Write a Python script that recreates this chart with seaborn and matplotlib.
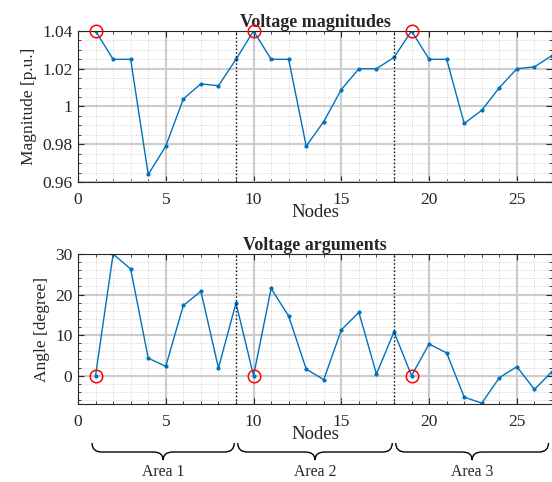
import seaborn as sns
import matplotlib.pyplot as plt
import pandas as pd
import numpy as np
from matplotlib.path import Path
from matplotlib.patches import PathPatch
from matplotlib.ticker import MultipleLocator, FuncFormatter
from matplotlib.transforms import blended_transform_factory

nodes = list(range(1, 28))
magnitude = [1.040, 1.025, 1.025, 0.964, 0.979, 1.004, 1.012, 1.011, 1.025,
             1.040, 1.025, 1.025, 0.979, 0.992, 1.009, 1.020, 1.020, 1.026,
             1.040, 1.025, 1.025, 0.991, 0.998, 1.010, 1.020, 1.021, 1.027]
angle = [0.0, 30.0, 26.3, 4.3, 2.3, 17.3, 20.8, 1.9, 17.9,
         0.0, 21.5, 14.7, 1.6, -1.0, 11.3, 15.6, 0.4, 10.8,
         0.0, 7.8, 5.6, -5.3, -6.8, -0.5, 2.2, -3.4, 1.0]
slack_nodes = [1, 10, 19]
area_bounds = [9, 18]
areas = ['Area 1', 'Area 2', 'Area 3']
area_spans = [(0.8, 8.9), (9.1, 17.9), (18.1, 26.8)]

df = pd.DataFrame({'Nodes': nodes, 'Magnitude': magnitude, 'Angle': angle})
slack = df[df['Nodes'].isin(slack_nodes)]

sns.set_style('ticks')
plt.rcParams['font.family'] = ['Liberation Serif', 'DejaVu Serif']
BLUE = '#0072BD'

fig = plt.figure(figsize=(5.52, 4.82), dpi=100)
ax1 = fig.add_axes([0.1413, 0.6224, 0.8587, 0.3133])
ax2 = fig.add_axes([0.1413, 0.1618, 0.8587, 0.3112])

def fmt(v, pos):
    return '%g' % round(v, 4)

setups = [(ax1, 'Magnitude', 'Magnitude [p.u.]', 'Voltage magnitudes', (0.96, 1.04), 0.02, 0.005),
          (ax2, 'Angle', 'Angle [degree]', 'Voltage arguments', (-7, 30), 10, 2)]

for ax, col, ylab, title, ylim, major, minor in setups:
    sns.lineplot(data=df, x='Nodes', y=col, ax=ax, color=BLUE, lw=1.0,
                 marker='o', markersize=3, markeredgewidth=0)
    ax.plot(slack['Nodes'], slack[col], 'o', mfc='none', mec='#FF0000', ms=9,
            mew=1.1, clip_on=False, zorder=5)
    for b in area_bounds:
        ax.axvline(b, color='black', ls=':', lw=1.0)
    ax.set_xlim(0, 27)
    ax.set_ylim(*ylim)
    ax.xaxis.set_major_locator(MultipleLocator(5))
    ax.xaxis.set_minor_locator(MultipleLocator(1))
    ax.yaxis.set_major_locator(MultipleLocator(major))
    ax.yaxis.set_minor_locator(MultipleLocator(minor))
    ax.yaxis.set_major_formatter(FuncFormatter(fmt))
    ax.grid(which='major', color='#cccccc', lw=1.5)
    ax.grid(which='minor', color='#c8c8c8', ls=':', lw=0.6)
    ax.set_axisbelow(True)
    ax.tick_params(which='both', direction='in', top=True, right=True, labelsize=12.5,
                   colors='#262626')
    ax.tick_params(axis='x', pad=7)
    ax.tick_params(axis='y', pad=4)
    ax.tick_params(which='major', length=4)
    ax.tick_params(which='minor', length=2.5)
    for s in ax.spines.values():
        s.set_color('#262626')
        s.set_linewidth(0.8)
    ax.set_xlabel('Nodes', fontsize=13.5, labelpad=-3)
    ax.set_ylabel(ylab, fontsize=12.5, labelpad=4)
    ax.set_title(title, fontsize=13, fontweight='bold', pad=2)

# area braces under the lower plot
trans = blended_transform_factory(ax2.transData, fig.transFigure)
y_top, y_mid, y_tip, y_txt = 0.0809, 0.0622, 0.0456, 0.0207
r = 0.55
for name, (x0, x1) in zip(areas, area_spans):
    m = (x0 + x1) / 2
    verts = [(x0, y_top), (x0, y_mid), (x0 + r, y_mid),
             (m - r, y_mid), (m, y_mid), (m, y_tip),
             (m, y_mid), (m + r, y_mid),
             (x1 - r, y_mid), (x1, y_mid), (x1, y_top)]
    codes = [Path.MOVETO, Path.CURVE3, Path.CURVE3,
             Path.LINETO, Path.CURVE3, Path.CURVE3,
             Path.CURVE3, Path.CURVE3,
             Path.LINETO, Path.CURVE3, Path.CURVE3]
    patch = PathPatch(Path(verts, codes), fc='none', ec='black', lw=1.0,
                      transform=trans, clip_on=False)
    fig.add_artist(patch)
    fig.text(m, y_txt, name, transform=trans, ha='center', va='center', fontsize=11.3)

plt.savefig('out.png', dpi=100)
